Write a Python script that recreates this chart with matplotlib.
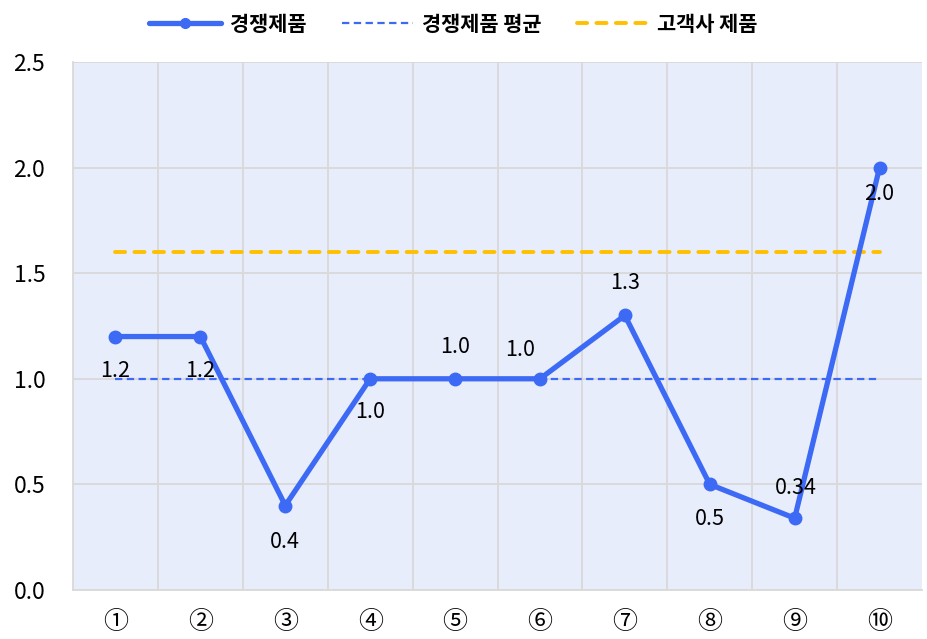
import matplotlib
matplotlib.use("Agg")
import matplotlib.pyplot as plt
from matplotlib.lines import Line2D

plt.rcParams['font.family'] = ['Noto Sans CJK KR', 'DejaVu Sans']

categories = ['①', '②', '③', '④', '⑤', '⑥', '⑦', '⑧', '⑨', '⑩']
competitor = [1.2, 1.2, 0.4, 1.0, 1.0, 1.0, 1.3, 0.5, 0.34, 2.0]
labels = ['1.2', '1.2', '0.4', '1.0', '1.0', '1.0', '1.3', '0.5', '0.34', '2.0']
competitor_avg = 1.0
client_product = 1.6
series_names = ['경쟁제품', '경쟁제품 평균', '고객사 제품']

blue = '#3D6AF5'
yellow = '#FFC000'

fig = plt.figure(figsize=(9.27, 6.39), dpi=100)
ax = fig.add_axes([0.0788, 0.0767, 0.9158, 0.8263])
ax.set_facecolor('#E8EDFC')

yellow_ls = (0, (2.6, 2.4))
avg_ls = (0, (3.3, 2.0))

x = list(range(1, len(categories) + 1))
ax.plot(x, [client_product] * len(x), color=yellow, lw=2.8, ls=yellow_ls,
        dash_capstyle='round', zorder=3)
ax.plot(x, [competitor_avg] * len(x), color=blue, lw=1.6, ls=avg_ls, zorder=3)
ax.plot(x, competitor, color=blue, lw=3.8, marker='o', ms=9, zorder=4)

# label offsets in points (dx, dy)
offsets = [(0, -25), (0, -25), (0, -26), (0, -24), (0, 23), (-14, 21), (0, 23), (0, -25), (1, 22), (0, -19)]
for xi, yi, lab, (dx, dy) in zip(x, competitor, labels, offsets):
    ax.annotate(lab, (xi, yi), xytext=(dx, dy), textcoords='offset points',
                ha='center', va='center', fontsize=15.5, color='black', zorder=5)

ax.set_xlim(0.5, len(categories) + 0.5)
ax.set_ylim(0, 2.5)
ax.set_yticks([0, 0.5, 1.0, 1.5, 2.0, 2.5])
ax.set_yticklabels(['0.0', '0.5', '1.0', '1.5', '2.0', '2.5'], fontsize=16.5)
ax.set_xticks(x)
ax.set_xticklabels(categories, fontsize=18)
ax.set_xticks([i + 0.5 for i in range(1, len(categories))], minor=True)
ax.tick_params(axis='both', which='both', length=0)
ax.tick_params(axis='x', pad=14)
ax.tick_params(axis='y', pad=20)
ax.grid(True, axis='y', which='major', color='#D9D9D9', lw=1.3)
ax.grid(True, axis='x', which='minor', color='#D9D9D9', lw=1.3)
ax.set_axisbelow(True)
for s in ['top', 'right']:
    ax.spines[s].set_visible(False)
for s in ['left', 'bottom']:
    ax.spines[s].set_color('#D9D9D9')
    ax.spines[s].set_linewidth(1.3)

h0 = Line2D([0, 0.5, 1], [0, 0, 0], color=blue, lw=3.8, marker='o', ms=7,
            markevery=[1], solid_capstyle='round')
h1 = Line2D([], [], color=blue, lw=1.6, ls=avg_ls)
h2 = Line2D([], [], color=yellow, lw=2.8, ls=yellow_ls, dash_capstyle='round')
leg = fig.legend([h0, h1, h2], series_names, loc='upper center', bbox_to_anchor=(0.489, 1.008),
                 ncol=3, frameon=False, handlelength=3.45, handletextpad=0.4,
                 columnspacing=1.7, prop={'weight': 'bold', 'size': 15})

fig.savefig('out.png', dpi=100)
